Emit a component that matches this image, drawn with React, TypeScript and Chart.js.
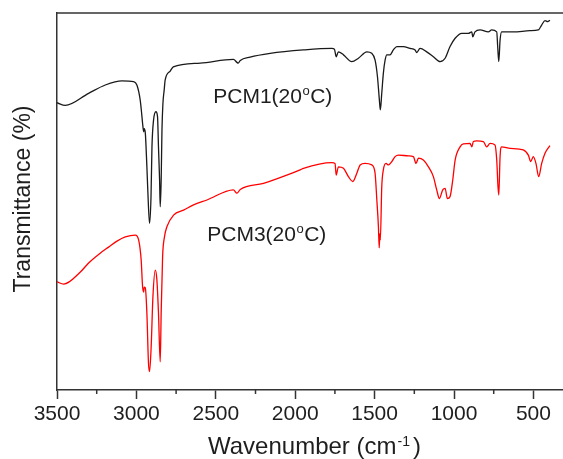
import React, { useEffect, useRef } from "react";
import { Chart, registerables } from "chart.js";

Chart.register(...registerables);

// PCM1 (black) spectrum: wavenumber (cm-1) and transmittance (a.u.)
const pcm1Wavenumber = [
  3500, 3448, 3301, 3196, 3091, 3018, 2997, 2976, 2965, 2961, 2954, 2951, 2944, 2934, 2924, 2917,
  2908, 2902, 2892, 2877, 2867, 2861, 2854, 2850, 2844, 2839, 2833, 2825, 2819, 2787, 2768, 2598,
  2389, 2367, 2359, 2346, 2284, 2158, 1948, 1769, 1753, 1742, 1728, 1696, 1644, 1602, 1549, 1518,
  1497, 1482, 1470, 1464, 1455, 1445, 1434, 1423, 1403, 1382, 1360, 1319, 1277, 1245, 1235, 1214,
  1172, 1130, 1088, 1056, 1025, 993, 951, 910, 888, 882, 868, 836, 784, 763, 731, 725, 718, 710,
  700, 627, 522, 469, 448, 427, 410, 396,
];
const pcm1Transmittance = [
  76.2, 75.5, 78.7, 80.9, 82.0, 81.8, 80.9, 76.9, 72.5, 70.7, 68.5, 69.3, 68.2, 59.2, 48.6, 44.2,
  51.3, 64.5, 71.6, 73.8, 72.5, 64.5, 55.7, 48.6, 55.7, 69.0, 76.0, 79.6, 82.2, 84.6, 85.7, 86.7,
  87.7, 86.9, 86.7, 87.4, 88.3, 89.3, 90.2, 90.6, 90.4, 88.4, 89.7, 88.9, 87.1, 88.0, 89.7, 89.3,
  87.5, 83.1, 76.9, 74.3, 78.7, 84.0, 87.5, 88.9, 88.9, 90.2, 91.1, 91.1, 90.6, 90.2, 89.5, 90.6,
  89.7, 88.4, 87.1, 88.0, 91.1, 93.3, 94.6, 94.6, 95.0, 93.7, 95.0, 95.5, 95.0, 95.5, 95.0, 91.1,
  87.1, 92.8, 95.0, 95.0, 95.3, 95.5, 96.8, 98.0, 97.7, 98.1,
];

// PCM3 (red) spectrum
const pcm3Wavenumber = [
  3500, 3458, 3353, 3301, 3228, 3175, 3122, 3070, 3007, 2986, 2970, 2961, 2954, 2951, 2944, 2934,
  2924, 2917, 2907, 2896, 2881, 2871, 2861, 2850, 2844, 2835, 2823, 2808, 2766, 2703, 2640, 2556,
  2389, 2367, 2346, 2200, 2053, 1969, 1948, 1769, 1749, 1742, 1728, 1696, 1665, 1637, 1612, 1591,
  1560, 1518, 1497, 1486, 1476, 1471, 1467, 1464, 1455, 1445, 1428, 1413, 1392, 1371, 1350, 1287,
  1256, 1239, 1224, 1193, 1161, 1130, 1109, 1092, 1071, 1056, 1042, 1025, 1008, 993, 962, 941, 899,
  888, 878, 857, 815, 794, 773, 742, 731, 723, 718, 710, 700, 647, 564, 532, 517, 501, 484, 467,
  448, 427, 396,
];
const pcm3Transmittance = [
  28.7, 28.1, 31.3, 33.7, 36.3, 37.9, 39.5, 40.6, 41.1, 39.8, 34.5, 27.4, 26.0, 27.3, 27.1, 20.4,
  7.2, 4.9, 11.5, 24.7, 31.8, 29.2, 20.4, 7.5, 20.4, 35.4, 40.7, 43.3, 46.4, 47.7, 49.1, 50.4,
  53.1, 52.2, 53.2, 54.8, 57.0, 58.4, 58.8, 60.3, 60.1, 57.0, 59.2, 58.8, 56.6, 55.3, 57.5, 59.7,
  60.1, 59.7, 57.5, 50.4, 43.3, 37.7, 41.5, 39.8, 53.9, 58.4, 60.1, 59.7, 60.6, 61.9, 62.3, 62.1,
  61.9, 60.1, 61.5, 61.0, 59.2, 56.6, 53.1, 50.8, 53.1, 53.5, 50.8, 51.3, 55.7, 61.0, 64.5, 65.3, 65.4,
  64.5, 65.9, 66.1, 65.9, 64.5, 65.4, 65.0, 61.0, 53.9, 51.7, 61.9, 64.5, 64.1, 63.7, 62.3, 60.6, 61.9, 60.1, 56.6,
  60.1, 62.8, 64.8,
];

const majorTicks = [500, 1000, 1500, 2000, 2500, 3000, 3500];
const minorTicks = [250, 750, 1250, 1750, 2250, 2750, 3250];
const seriesNames = ["PCM1", "PCM3"];
const seriesTemp = "(20";
const seriesColors = ["#1a1a1a", "#ff0000"];
const xTitleMain = "Wavenumber (cm";
const xTitleSup = "-1";
const yTitle = "Transmittance (%)";

const FONT = '"Liberation Sans", Arial, Helvetica, sans-serif';
const TEXT = "#1e1e1e";

function drawRuns(ctx: CanvasRenderingContext2D, x: number, y: number, runs: [string, number, number, number][]) {
  let cx = x;
  for (const [t, size, dy, gap] of runs) {
    ctx.font = `${size}px ${FONT}`;
    cx += gap;
    ctx.fillText(t, cx, y - dy);
    cx += ctx.measureText(t).width;
  }
}

const decorPlugin = {
  id: "decor",
  afterDraw(chart: any) {
    const { ctx, chartArea, scales } = chart;
    const xs = scales.x;
    const ys = scales.y;
    ctx.save();
    // top frame line
    ctx.strokeStyle = "#333";
    ctx.lineWidth = 1.5;
    ctx.beginPath();
    ctx.moveTo(chartArea.left - 0.75, chartArea.top);
    ctx.lineTo(chartArea.right, chartArea.top);
    ctx.stroke();
    // minor ticks
    for (const v of minorTicks) {
      const px = xs.getPixelForValue(v);
      ctx.beginPath();
      ctx.moveTo(px, chartArea.bottom);
      ctx.lineTo(px, chartArea.bottom + 4);
      ctx.stroke();
    }
    ctx.fillStyle = TEXT;
    ctx.textBaseline = "alphabetic";
    ctx.textAlign = "left";
    // series labels
    const labelPos = [
      [2516, 76.1],
      [2554, 39.5],
    ];
    seriesNames.forEach((name, i) => {
      const lx = xs.getPixelForValue(labelPos[i][0]);
      const ly = ys.getPixelForValue(labelPos[i][1]);
      drawRuns(ctx, lx, ly, [
        [name + seriesTemp, 21, 0, 0],
        ["o", 13, 8.5, 0.5],
        ["C)", 21, 0, 0.5],
      ]);
    });
    // x title
    drawRuns(ctx, 208, 454, [
      [xTitleMain, 24, 0, 0],
      [xTitleSup, 14, 8, 1],
      [")", 24, 0, 3],
    ]);
    // y title
    ctx.font = `23px ${FONT}`;
    ctx.translate(30, 199);
    ctx.rotate(-Math.PI / 2);
    ctx.textAlign = "center";
    ctx.fillText(yTitle, 0, 0);
    ctx.restore();
  },
};

export default function App() {
  const ref = useRef<HTMLCanvasElement | null>(null);
  useEffect(() => {
    if (!ref.current) return;
    const chart = new Chart(ref.current, {
      type: "line",
      data: {
        datasets: [
          {
            label: seriesNames[0],
            data: pcm1Wavenumber.map((w, i) => ({ x: w, y: pcm1Transmittance[i] })),
            borderColor: seriesColors[0],
            borderWidth: 1.3,
            pointRadius: 0,
            cubicInterpolationMode: "monotone",
          },
          {
            label: seriesNames[1],
            data: pcm3Wavenumber.map((w, i) => ({ x: w, y: pcm3Transmittance[i] })),
            borderColor: seriesColors[1],
            borderWidth: 1.3,
            pointRadius: 0,
            cubicInterpolationMode: "monotone",
          },
        ],
      },
      options: {
        animation: false,
        responsive: false,
        devicePixelRatio: 1,
        layout: { padding: { left: 0, top: 13, right: 11, bottom: 0 } },
        plugins: { legend: { display: false }, tooltip: { enabled: false } },
        scales: {
          x: {
            type: "linear",
            reverse: true,
            min: 150,
            max: 3500,
            afterBuildTicks: (s: any) => {
              s.ticks = majorTicks.map((v) => ({ value: v }));
            },
            afterFit: (s: any) => {
              s.height = 69;
            },
            ticks: {
              font: { family: FONT, size: 21 },
              color: TEXT,
              padding: 3,
              maxRotation: 0,
              autoSkip: false,
              callback: (v: any) => String(v),
            },
            grid: {
              display: true,
              drawOnChartArea: false,
              drawTicks: true,
              tickLength: 9,
              tickColor: "#333",
              tickWidth: 1.5,
            },
            border: { display: true, color: "#333", width: 1.5 },
          },
          y: {
            type: "linear",
            min: 0,
            max: 100,
            afterFit: (s: any) => {
              s.width = 57;
            },
            ticks: { display: false },
            grid: { display: false, drawTicks: false },
            border: { display: true, color: "#333", width: 1.5 },
          },
        },
      },
      plugins: [decorPlugin],
    });
    return () => chart.destroy();
  }, []);
  return (
    <div
      style={{
        position: "fixed",
        left: 0,
        top: 0,
        width: 563,
        height: 459,
        overflow: "hidden",
        background: "#fff",
      }}
    >
      <canvas ref={ref} width={600} height={459} style={{ display: "block", width: 600, height: 459 }} />
    </div>
  );
}
